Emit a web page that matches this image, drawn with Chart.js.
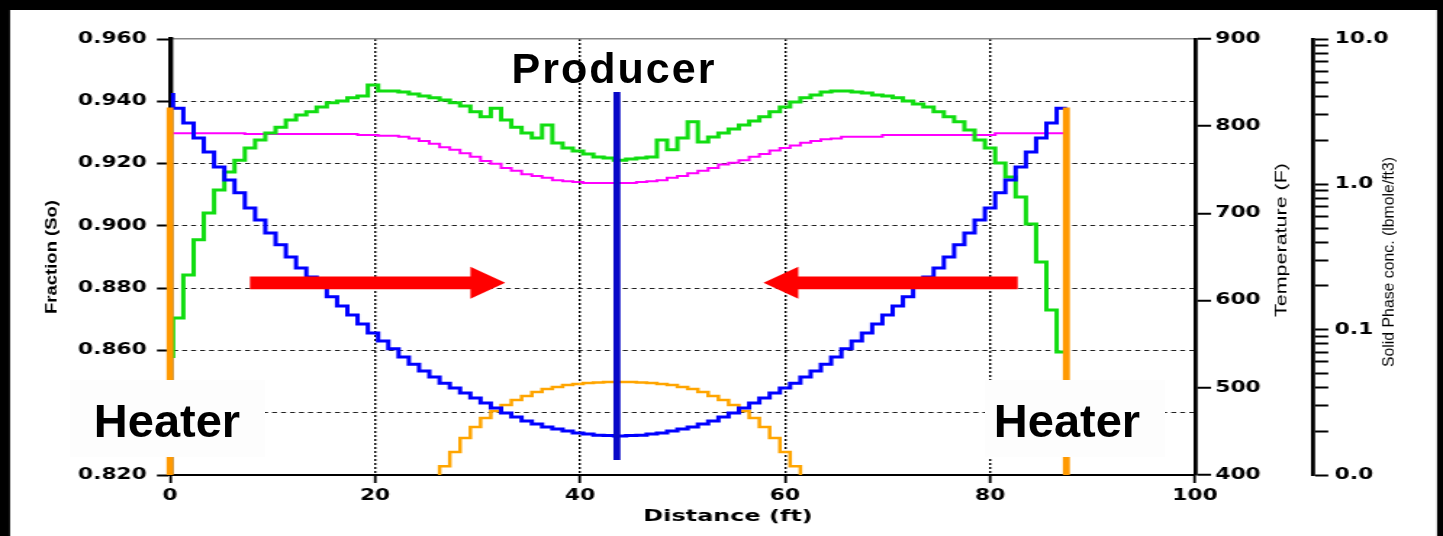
<!DOCTYPE html>
<html>
<head>
<meta charset="utf-8">
<script src="https://cdn.jsdelivr.net/npm/chart.js@4.4.1/dist/chart.umd.min.js"></script>
<style>
  html, body { margin: 0; padding: 0; background: #000; overflow: hidden; }
  #wrap { position: relative; width: 1443px; height: 536px; }
  #plot { position: absolute; left: 0; top: 0; width: 1443px !important; height: 536px !important; }
  .callout { position: absolute; font-family: "Liberation Sans", Arial, sans-serif; font-weight: bold; color: #000; white-space: nowrap; text-align: center; }
  .box { position: absolute; background: #fdfdfd; }
</style>
</head>
<body>
<div id="wrap">
  <canvas id="plot" width="995" height="536" style="width:1443px;height:536px;"></canvas>
  <div class="callout" style="left:414px; top:47px; width:400px; font-size:43px; line-height:43px; letter-spacing:2px;">Producer</div>
  <div class="box" style="left:70px; top:380px; width:195px; height:77px;"></div>
  <div class="box" style="left:985px; top:380px; width:180px; height:77px;"></div>
  <div class="callout" style="left:67px; top:397px; width:200px; font-size:47px; line-height:47px;">Heater</div>
  <div class="callout" style="left:967px; top:397px; width:200px; font-size:47px; line-height:47px;">Heater</div>
</div>
<script>
// ---- grid-block edges along the section (ft); each value belongs to the block ending at that edge,
// ---- the first value is the level at the first edge
const distance = [
  0.3, 1.3, 2.3, 3.3, 4.3, 5.3, 6.3, 7.3, 8.3, 9.3,
  10.3, 11.3, 12.3, 13.3, 14.3, 15.3, 16.3, 17.3, 18.3, 19.3,
  20.3, 21.3, 22.3, 23.3, 24.3, 25.3, 26.3, 27.3, 28.3, 29.3,
  30.3, 31.3, 32.3, 33.3, 34.3, 35.3, 36.3, 37.3, 38.3, 39.3,
  40.3, 41.3, 42.3, 43.3,
  44.5, 45.5, 46.5, 47.5, 48.5, 49.5, 50.5, 51.5, 52.5, 53.5,
  54.5, 55.5, 56.5, 57.5, 58.5, 59.5, 60.5, 61.5, 62.5, 63.5,
  64.5, 65.5, 66.5, 67.5, 68.5, 69.5, 70.5, 71.5, 72.5, 73.5,
  74.5, 75.5, 76.5, 77.5, 78.5, 79.5, 80.5, 81.5, 82.5, 83.5,
  84.5, 85.5, 86.5, 87.5
];

// blue profile, Fraction (So)
const fractionBlue = [
  0.9427, 0.9378, 0.9330, 0.9282, 0.9237, 0.9189, 0.9147, 0.9106, 0.9057, 0.9019,
  0.8977, 0.8939, 0.8900, 0.8865, 0.8836, 0.8804, 0.8772, 0.8743, 0.8714, 0.8685,
  0.8656, 0.8630, 0.8605, 0.8579, 0.8556, 0.8534, 0.8515, 0.8495, 0.8479, 0.8463,
  0.8447, 0.8431, 0.8415, 0.8399, 0.8386, 0.8373, 0.8364, 0.8354, 0.8348, 0.8341,
  0.8335, 0.8332, 0.8328, 0.8327, 0.8325,
  0.8327, 0.8328, 0.8332, 0.8335, 0.8341, 0.8348, 0.8354, 0.8364, 0.8373, 0.8386,
  0.8399, 0.8415, 0.8431, 0.8447, 0.8463, 0.8479, 0.8495, 0.8515, 0.8534, 0.8556,
  0.8579, 0.8605, 0.8630, 0.8656, 0.8685, 0.8714, 0.8743, 0.8772, 0.8804, 0.8836,
  0.8865, 0.8900, 0.8939, 0.8977, 0.9019, 0.9057, 0.9106, 0.9147, 0.9189, 0.9237,
  0.9282, 0.9330, 0.9378
];

// green profile, Fraction (So)
const fractionGreen = [
  0.8576,
  0.8704, 0.8842, 0.8955, 0.9041, 0.9115, 0.9173, 0.9211, 0.9250, 0.9276, 0.9298,
  0.9317, 0.9340, 0.9356, 0.9366, 0.9382, 0.9395, 0.9401, 0.9411, 0.9417, 0.9452,
  0.9433, 0.9433, 0.9430, 0.9423, 0.9417, 0.9411, 0.9404, 0.9395, 0.9385, 0.9366,
  0.9350, 0.9378, 0.9340, 0.9317, 0.9298, 0.9282, 0.9324, 0.9266, 0.9250, 0.9240,
  0.9231, 0.9221, 0.9218, 0.9211,
  0.9215, 0.9218, 0.9221, 0.9276, 0.9244, 0.9282, 0.9334, 0.9269, 0.9285, 0.9298,
  0.9311, 0.9324, 0.9337, 0.9350, 0.9366, 0.9382, 0.9398, 0.9411, 0.9420, 0.9430,
  0.9433, 0.9433, 0.9430, 0.9427, 0.9420, 0.9417, 0.9411, 0.9401, 0.9391, 0.9382,
  0.9366, 0.9350, 0.9334, 0.9308, 0.9276, 0.9250, 0.9202, 0.9157, 0.9093, 0.9006,
  0.8884, 0.8730, 0.8595
];

// magenta profile, Temperature (F)
const temperature = [
  792,
  792, 792, 792, 792, 792, 792, 792, 791, 791, 791,
  791, 791, 791, 791, 791, 791, 791, 791, 790, 790,
  789, 789, 788, 786, 783, 780, 776, 773, 769, 765,
  760, 757, 752, 749, 745, 743, 741, 738, 737, 736,
  735, 735, 735, 735,
  735, 736, 737, 738, 741, 743, 746, 749, 752, 756,
  758, 761, 765, 768, 772, 775, 778, 781, 783, 785,
  786, 788, 788, 788, 788, 790, 790, 790, 790, 790,
  790, 790, 790, 790, 790, 790, 792, 792, 792, 792,
  792, 792, 792
];

// orange profile, Solid Phase conc. (lbmole/ft3), on its own block edges
const solidDistance = [
  26.3, 27.3, 28.3, 29.3, 30.3, 31.3, 32.3, 33.3, 34.3, 35.3,
  36.3, 37.3, 38.3, 39.3, 40.3, 41.3, 42.3, 43.3, 44.5, 45.5,
  46.5, 47.5, 48.5, 49.5, 50.5, 51.5, 52.5, 53.5, 54.5, 55.5,
  56.5, 57.5, 58.5, 59.5, 60.5, 61.5, 61.5
];
const solidConc = [
  0.0100, 0.0115, 0.0144, 0.0180, 0.0214, 0.0247, 0.0276, 0.0303, 0.0328, 0.0350,
  0.0372, 0.0391, 0.0403, 0.0416, 0.0423, 0.0430, 0.0433, 0.0436, 0.0436, 0.0436,
  0.0433, 0.0430, 0.0423, 0.0416, 0.0403, 0.0391, 0.0372, 0.0350, 0.0328, 0.0303,
  0.0276, 0.0247, 0.0214, 0.0180, 0.0144, 0.0115, 0.0100
];

// axis ticks
const distanceTicks = [0, 20, 40, 60, 80, 100];
const concTickValues = [
  0.01, 0.02, 0.03, 0.04, 0.05, 0.06, 0.07, 0.08, 0.09,
  0.1, 0.2, 0.3, 0.4, 0.5, 0.6, 0.7, 0.8, 0.9,
  1, 2, 3, 4, 5, 6, 7, 8, 9, 10
];
const concLabelValues = [0.01, 0.1, 1, 10];

// wells and flow direction
const heaterX = [0, 87.45];
const heaterSpan = [0.82, 0.938];
const producerX = 43.6;
const producerSpan = [0.8248, 0.943];
const arrowLevel = 0.8817;
const flowArrows = [{ from: 7.8, to: 32.7 }, { from: 82.7, to: 57.9 }];

// ---------------------------------------------------------------------------
const SX = 1443 / 995;               // the plot is drawn narrow and widened on the page
const px = v => v / SX;              // page x -> canvas x
const tickFont = { family: "'DejaVu Sans', sans-serif", size: 15, weight: 'bold' };
const near = (a, b) => Math.abs(a - b) < 1e-6;
const toXY = (xs, ys) => xs.map((x, i) => ({ x, y: ys[i] }));

const frame = {
  id: 'frame',
  beforeDraw(chart) {
    const c = chart.ctx;
    c.save();
    c.fillStyle = '#000';
    c.fillRect(0, 0, chart.width, chart.height);
    c.fillStyle = '#fff';
    c.fillRect(px(10), 10, px(1427), 526);
    c.restore();
  }
};

const arrows = {
  id: 'flowArrows',
  afterDatasetsDraw(chart) {
    const { ctx, scales } = chart;
    const yc = scales.yFrac.getPixelForValue(arrowLevel);
    ctx.save();
    ctx.fillStyle = '#FF0000';
    flowArrows.forEach(a => {
      const x0 = scales.x.getPixelForValue(a.from);
      const x1 = scales.x.getPixelForValue(a.to);
      const dir = Math.sign(x1 - x0);
      const xb = x1 - dir * 24;
      ctx.beginPath();
      ctx.moveTo(x0, yc - 6.3);
      ctx.lineTo(xb, yc - 6.3);
      ctx.lineTo(xb, yc - 16);
      ctx.lineTo(x1, yc);
      ctx.lineTo(xb, yc + 16);
      ctx.lineTo(xb, yc + 6.3);
      ctx.lineTo(x0, yc + 6.3);
      ctx.closePath();
      ctx.fill();
    });
    ctx.restore();
  }
};

function rotatedTitle(ctx, text, cx, cy, font, length) {
  ctx.save();
  ctx.font = font;
  const w = ctx.measureText(text).width;
  ctx.translate(cx, cy);
  ctx.rotate(-Math.PI / 2);
  ctx.scale(length / w, 1);
  ctx.textAlign = 'center';
  ctx.textBaseline = 'middle';
  ctx.fillStyle = '#000';
  ctx.fillText(text, 0, 0);
  ctx.restore();
}

const titles = {
  id: 'axisTitles',
  afterDraw(chart) {
    const c = chart.ctx;
    rotatedTitle(c, 'Fraction (So)', px(52), 257, "bold 10.8px 'Liberation Sans', Arial, sans-serif", 114);
    rotatedTitle(c, 'Temperature (F)', px(1282), 240, "11.2px 'Liberation Sans', Arial, sans-serif", 154);
    rotatedTitle(c, 'Solid Phase conc. (lbmole/ft3)', px(1389), 262, "11.8px 'Liberation Sans', Arial, sans-serif", 210);
    c.save();
    c.font = "bold 16.5px 'DejaVu Sans', sans-serif";
    c.fillStyle = '#000';
    c.textAlign = 'center';
    c.textBaseline = 'middle';
    c.fillText('Distance (ft)', px(728), 517);
    c.restore();
  }
};

const stepLine = (data, color, width, axis, order) => ({
  data, yAxisID: axis, order,
  borderColor: color, borderWidth: width, stepped: 'after',
  pointRadius: 0, fill: false, tension: 0, borderJoinStyle: 'miter'
});

const wellLine = (x, span, color, order) => ({
  data: [{ x, y: span[0] }, { x, y: span[1] }], yAxisID: 'yFrac', order,
  borderColor: color, borderWidth: 4.8, borderCapStyle: 'butt',
  pointRadius: 0, fill: false, clip: false
});

new Chart(document.getElementById('plot'), {
  type: 'line',
  data: {
    datasets: [
      wellLine(producerX, producerSpan, '#0808C8', 0),
      wellLine(heaterX[0], heaterSpan, '#FF9900', 1),
      wellLine(heaterX[1], heaterSpan, '#FF9900', 1),
      stepLine(toXY(distance, fractionBlue), '#0000FF', 3, 'yFrac', 2),
      stepLine(toXY(distance, fractionGreen), '#11DD11', 3, 'yFrac', 3),
      stepLine(toXY(distance, temperature), '#FF00FF', 2, 'yTemp', 4),
      stepLine(toXY(solidDistance, solidConc), '#FFA500', 2.5, 'ySolid', 5)
    ]
  },
  options: {
    responsive: false,
    animation: false,
    events: [],
    layout: { padding: { left: 0, right: 0, top: 39, bottom: 0 } },
    plugins: { legend: { display: false }, tooltip: { enabled: false } },
    scales: {
      x: {
        type: 'linear', position: 'bottom', min: 0, max: 100,
        afterBuildTicks: s => { s.ticks = distanceTicks.map(v => ({ value: v })); },
        afterFit: s => { s.height = 61; },
        ticks: { font: tickFont, color: '#000', padding: 4, maxRotation: 0, autoSkip: false },
        grid: {
          color: c => (c.tick && (c.tick.value === 0 || c.tick.value === 100)) ? 'rgba(0,0,0,0)' : '#000',
          lineWidth: 1.4, tickLength: 8, tickColor: '#000', tickWidth: 1.8
        },
        border: { color: '#000', width: 2, dash: [2, 2] }
      },
      yFrac: {
        type: 'linear', position: 'left', min: 0.82, max: 0.96,
        afterFit: s => { s.width = px(170); },
        ticks: { stepSize: 0.02, font: tickFont, color: '#000', padding: 7,
                 callback: v => Number(v).toFixed(3) },
        grid: {
          color: c => (c.tick && (near(c.tick.value, 0.96) || near(c.tick.value, 0.82))) ? 'rgba(0,0,0,0)' : '#222',
          lineWidth: 1, tickLength: 9, tickColor: '#000', tickWidth: 2
        },
        border: { color: '#000', width: 3.4, dash: [3.4, 2.8] }
      },
      yTemp: {
        type: 'linear', position: 'right', min: 400, max: 900,
        afterFit: s => { s.width = px(1313 - 1195); },
        ticks: { stepSize: 100, font: tickFont, color: '#000', padding: 3 },
        grid: {
          color: c => (c.tick && c.tick.value === 900) ? '#888' : 'rgba(0,0,0,0)',
          lineWidth: 1.5, tickLength: 11, tickColor: '#000', tickWidth: 2
        },
        border: { color: '#000', width: 2.8 }
      },
      ySolid: {
        type: 'logarithmic', position: 'right', min: 0.01, max: 10,
        afterBuildTicks: s => { s.ticks = concTickValues.map(v => ({ value: v })); },
        afterFit: s => { s.width = 995 - px(1313); },
        ticks: {
          font: tickFont, color: '#000', padding: 4.5, autoSkip: false,
          callback: v => concLabelValues.some(m => near(m, v)) ? Number(v).toFixed(1) : ''
        },
        grid: { drawOnChartArea: false, tickLength: 10.5, tickColor: '#000', tickWidth: 2 },
        border: { color: '#000', width: 2.8 }
      }
    }
  },
  plugins: [frame, arrows, titles]
});
</script>
</body>
</html>
